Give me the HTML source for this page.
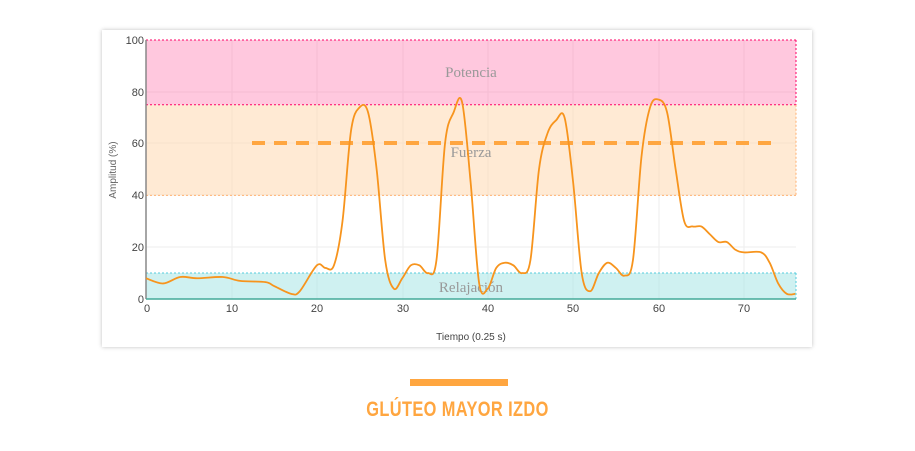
<!DOCTYPE html>
<html><head><meta charset="utf-8"><style>
body{margin:0;width:915px;height:451px;background:#fff;overflow:hidden;font-family:"Liberation Sans",sans-serif}
.card{position:absolute;left:102px;top:30px;width:710px;height:317px;background:#fff;box-shadow:0 0 4px rgba(0,0,0,0.25)}
.bar{position:absolute;left:410px;top:379px;width:98px;height:7px;background:#ffa640}
.title{position:absolute;left:0;width:915px;top:398px;text-align:center;color:#ffa640;font-size:21px;font-weight:bold;letter-spacing:0.5px;transform:scaleX(0.78)}
</style></head><body>
<div class="card"></div>
<svg width="915" height="451" style="position:absolute;left:0;top:0">
<g stroke="#eee" stroke-width="1">
<line x1="232" y1="40" x2="232" y2="299"/><line x1="317" y1="40" x2="317" y2="299"/><line x1="403" y1="40" x2="403" y2="299"/><line x1="488" y1="40" x2="488" y2="299"/><line x1="573" y1="40" x2="573" y2="299"/><line x1="659" y1="40" x2="659" y2="299"/><line x1="744" y1="40" x2="744" y2="299"/>
<line x1="146" y1="247" x2="796" y2="247"/><line x1="146" y1="195" x2="796" y2="195"/><line x1="146" y1="143" x2="796" y2="143"/><line x1="146" y1="92" x2="796" y2="92"/>
</g>
<rect x="146" y="40" width="650" height="64.7" fill="#ff6fa8" opacity="0.38"/>
<rect x="146" y="104.7" width="650" height="90.6" fill="#ffd9b0" opacity="0.55"/>
<rect x="146" y="273" width="650" height="26" fill="#9fe3e3" opacity="0.5"/>
<g fill="none" stroke-dasharray="2,2" stroke-width="1">
<line x1="146" y1="40" x2="796" y2="40" stroke="#f06"/><line x1="146" y1="104.7" x2="796" y2="104.7" stroke="#f06"/>
<line x1="796" y1="40" x2="796" y2="104.7" stroke="#f06"/>
<line x1="146" y1="195.4" x2="796" y2="195.4" stroke="#ffb070"/><line x1="796" y1="104.7" x2="796" y2="195.4" stroke="#ffb070"/>
<line x1="146" y1="273" x2="796" y2="273" stroke="#5cd"/><line x1="796" y1="273" x2="796" y2="299" stroke="#5cd"/>
</g>
<g font-family="Liberation Serif,serif" font-size="15" fill="#999" text-anchor="middle">
<text x="471" y="77">Potencia</text><text x="471" y="157">Fuerza</text><text x="471" y="292">Relajación</text></g>
<line x1="146" y1="40" x2="146" y2="299" stroke="#888" stroke-width="1.5"/>
<line x1="146" y1="299" x2="796" y2="299" stroke="#4a9" stroke-width="1.5"/>
<line x1="252" y1="143" x2="777" y2="143" stroke="#ffa640" stroke-width="4" stroke-dasharray="13,9"/>
<path id="c" fill="none" stroke="#f7941d" stroke-width="1.8"/>
<g font-size="11" fill="#444" text-anchor="end">
<text x="144" y="303">0</text><text x="144" y="251">20</text><text x="144" y="199">40</text><text x="144" y="147">60</text><text x="144" y="96">80</text><text x="144" y="44">100</text></g>
<g font-size="11" fill="#444" text-anchor="middle">
<text x="147" y="312">0</text><text x="232" y="312">10</text><text x="317" y="312">20</text><text x="403" y="312">30</text><text x="488" y="312">40</text><text x="573" y="312">50</text><text x="659" y="312">60</text><text x="744" y="312">70</text></g>
<text x="471" y="340" font-size="10" fill="#444" text-anchor="middle">Tiempo (0.25 s)</text>
<text transform="translate(116,170) rotate(-90)" font-size="10" fill="#666" text-anchor="middle">Amplitud (%)</text>
</svg>
<div class="bar"></div>
<div class="title">GLÚTEO MAYOR IZDO</div>
<script>
var d=[[0,8],[2,6],[4,8.5],[6,8],[9,8.5],[11,7],[14,6.5],[15,5],[17,2],[18,3],[20,13],[21,12],[22,13],[23,30],[24,65],[25,74],[26,72],[27,50],[28,15],[29,4],[30,8],[31,13],[32,13],[33,10],[34,15],[35,60],[36,72],[37,76],[38,45],[39,6],[40,4],[41,12],[42,14],[43,13],[44,10],[45,15],[46,50],[47,64],[48,69],[49,70],[50,45],[51,10],[52,3],[53,10],[54,14],[55,12],[56,9],[57,15],[58,55],[59,74],[60,77],[61,72],[62,50],[63,30],[64,28],[65,28],[66,25],[67,22],[68,22],[69,19],[70,18],[72,18],[73,14],[74,6],[75,2],[76,2]];
var p=d.map(function(a){return[146+a[0]*8.543,299-a[1]*2.59]});
var s="M"+p[0][0]+","+p[0][1];
for(var i=0;i<p.length-1;i++){var p0=p[i-1]||p[i],p1=p[i],p2=p[i+1],p3=p[i+2]||p2;
s+=" C"+(p1[0]+(p2[0]-p0[0])/6)+","+(p1[1]+(p2[1]-p0[1])/6)+" "+(p2[0]-(p3[0]-p1[0])/6)+","+(p2[1]-(p3[1]-p1[1])/6)+" "+p2[0]+","+p2[1];}
document.getElementById("c").setAttribute("d",s);
</script>
</body></html>
